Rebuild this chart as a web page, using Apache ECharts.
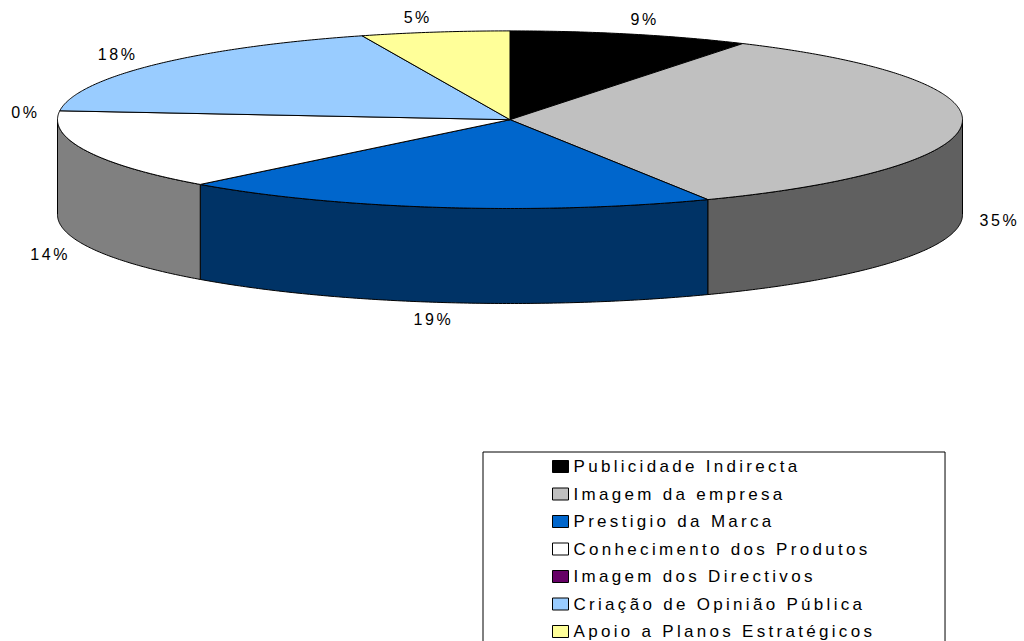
<!DOCTYPE html>
<html>
<head>
<meta charset="utf-8">
<script src="https://cdn.jsdelivr.net/npm/echarts@6/dist/echarts.min.js"></script>
<style>
  html, body { margin: 0; padding: 0; background: #fff; overflow: hidden; }
  #echart { width: 1024px; height: 641px; }
  /* o original tem as letras muito afastadas */
  #echart text { letter-spacing: 3.3px; }
  #echart text[style*="16px"] { letter-spacing: 2.6px; }
</style>
</head>
<body>
<div id="echart"></div>
<script>
  const categories = ['Publicidade Indirecta', 'Imagem da empresa', 'Prestigio da Marca', 'Conhecimento dos Produtos', 'Imagem dos Directivos', 'Criação de Opinião Pública', 'Apoio a Planos Estratégicos'];
  // fatia tal como desenhada na imagem (% da volta)
  const values = [8.6, 34.2, 19.2, 14.6, 0, 18.1, 5.3];
  const percentLabels = ['9%', '35%', '19%', '14%', '0%', '18%', '5%'];
  const topColors = ['#000000', '#c0c0c0', '#0066cc', '#ffffff', '#660066', '#99ccff', '#ffff99'];
  const sideColors = ['#000000', '#606060', '#003366', '#808080', '#330033', '#4d6680', '#80804d'];

  const cx = 510, cy = 119.7, rx = 452.5, ry = 88.8, depth = 95;
  const labelRx = 490, labelRy = 104;
  const labelFont = '16px "Liberation Sans"';
  // acerto fino das etiquetas em relacao a elipse
  const labelShift = [[4, 0], [0, 1], [-3, 2], [-1, 3], [3, 3], [-8, -1], [-11, 0]];

  // angulo em graus a contar do topo, sentido horario
  function rimPoint(deg, drop) {
    const a = deg * Math.PI / 180;
    return [cx + rx * Math.sin(a), cy - ry * Math.cos(a) + drop];
  }

  function arcPoints(from, to, drop) {
    const pts = [];
    const n = Math.max(2, Math.ceil((to - from) / 0.5));
    for (let i = 0; i <= n; i++) {
      pts.push(rimPoint(from + (to - from) * i / n, drop));
    }
    return pts;
  }

  function renderSlice(params, api) {
    const i = params.seriesIndex;
    const start = api.value(1) * 3.6;
    const end = start + api.value(0) * 3.6;
    const children = [];

    // parede lateral, so na metade da frente
    const sideFrom = Math.max(start, 90), sideTo = Math.min(end, 270);
    if (sideTo > sideFrom) {
      children.push({
        type: 'polygon',
        shape: { points: arcPoints(sideFrom, sideTo, 0).concat(arcPoints(sideFrom, sideTo, depth).reverse()) },
        style: { fill: sideColors[i], stroke: '#000', lineWidth: 1 }
      });
    }
    if (end > start) {
      children.push({
        type: 'polygon',
        shape: { points: [[cx, cy]].concat(arcPoints(start, end, 0)) },
        style: { fill: topColors[i], stroke: '#000', lineWidth: 1 }
      });
    }

    const mid = (start + end) / 2 * Math.PI / 180;
    const front = Math.cos(mid) < 0;
    children.push({
      type: 'text',
      z2: 10,
      style: {
        text: percentLabels[i],
        x: cx + labelRx * Math.sin(mid) + labelShift[i][0],
        y: cy - labelRy * Math.cos(mid) + (front ? depth : 0) + labelShift[i][1],
        align: 'center',
        verticalAlign: 'middle',
        font: labelFont,
        fill: '#000'
      }
    });
    return { type: 'group', children: children };
  }

  let acc = 0;
  const series = categories.map((name, i) => {
    const row = [values[i], acc];
    acc += values[i];
    return {
      name: name,
      type: 'custom',
      coordinateSystem: 'none',
      silent: true,
      animation: false,
      itemStyle: { color: topColors[i] },
      renderItem: renderSlice,
      data: [row]
    };
  });

  const myChart = echarts.init(document.getElementById('echart'), null, { renderer: 'svg' });
  myChart.setOption({
    animation: false,
    backgroundColor: '#fff',
    legend: {
      data: categories,
      orient: 'vertical',
      left: 483,
      top: 452,
      height: 300,
      padding: [6, 157, 60, 69],
      itemWidth: 16,
      itemHeight: 12,
      itemGap: 10.5,
      icon: 'rect',
      selectedMode: false,
      borderColor: '#000',
      borderWidth: 1,
      backgroundColor: '#fff',
      itemStyle: { borderColor: '#000', borderWidth: 1 },
      textStyle: { color: '#000', fontFamily: 'Liberation Sans', fontSize: 17 }
    },
    series: series
  });
</script>
</body>
</html>
